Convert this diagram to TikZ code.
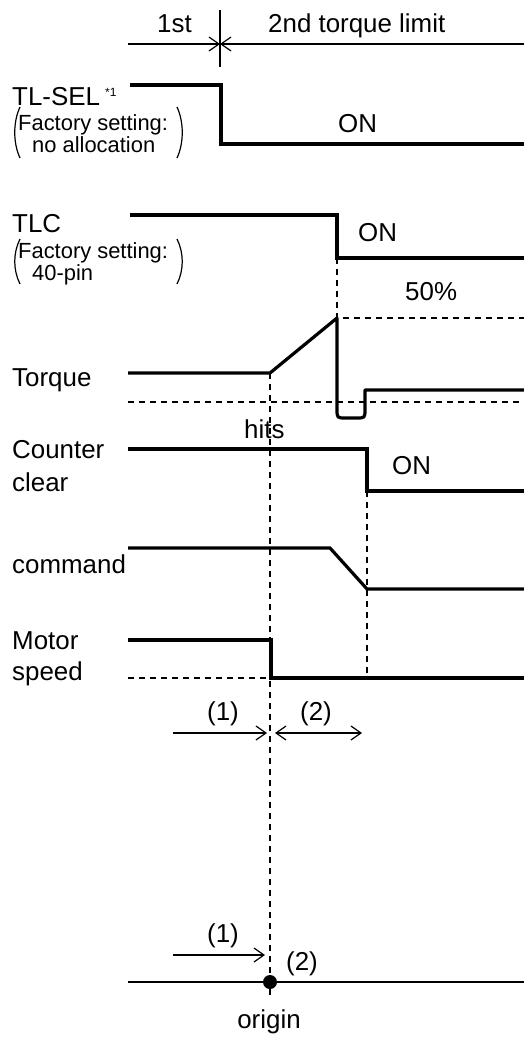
\documentclass[tikz,border=0pt]{standalone}
\usepackage{fontspec}
\setmainfont{Liberation Sans}
\usetikzlibrary{arrows.meta}

\begin{document}
\begin{tikzpicture}[x=1bp, y=-1bp,
        sig/.style={line width=3.2bp},
        guide/.style={line width=1.2bp},
        dsh/.style={line width=1.1bp, dash pattern=on 6bp off 5bp},
        barb/.style={-{Straight Barb[length=10bp,width=14bp]}, line width=1.2bp},
        lbl/.style={anchor=base west, inner sep=0pt, font=\fontsize{26}{30}\selectfont},
        sml/.style={anchor=base west, inner sep=0pt, font=\fontsize{22}{26}\selectfont}]
            \useasboundingbox (0,0) rectangle (524,1037);
            % time instants
            \coordinate (A) at (220,44);
            \coordinate (H) at (270,373);
            \coordinate (P) at (337,318);
            \coordinate (C) at (367,491);
            \coordinate (O) at (270,982);
            % 1st / 2nd torque limit
            \draw[barb] (128,44) -- (A);
            \draw[barb] (524,44) -- (A);
            \draw[guide] (220,10) -- (220,67);
            \node[lbl] (first) at (157,32) {1st};
            \node[lbl] (second) at (268,32) {2nd torque limit};
            % TL-SEL
            \draw[sig] (130,85) -| (221,144) -- (524,144);
            \node[lbl] (tlsel) at (12,105) {TL-SEL};
            \node[anchor=base west, inner sep=0pt, font=\fontsize{12}{14}\selectfont] (note) at (105,96) {*1};
            \node[sml] (fs1) at (18,130) {Factory setting:};
            \node[sml] (alloc) at (32,152) {no allocation};
            \draw[guide] (20,107) .. controls (13,122) and (13,143) .. (20,158);
            \draw[guide] (177,107) .. controls (184,122) and (184,143) .. (177,158);
            \node[lbl] (on1) at (338,132) {ON};
            % TLC
            \draw[sig] (130,215) -| (337,258) -- (524,258);
            \node[lbl] (tlc) at (12,232) {TLC};
            \node[sml] (fs2) at (18,258) {Factory setting:};
            \node[sml] (pin) at (32,280) {40-pin};
            \draw[guide] (20,239) .. controls (13,253) and (13,270) .. (20,284);
            \draw[guide] (177,239) .. controls (184,253) and (184,270) .. (177,284);
            \node[lbl] (on2) at (358,241) {ON};
            % Torque
            \draw[dsh] (337,258) -- (P) -- (524,318);
            \node[lbl] (half) at (405,300) {50\%};
            \draw[dsh] (128,402) -- (524,402);
            \draw[sig, line join=round] (128,373) -- (H) -- (P) -- (337,409)
                .. controls (337,418) .. (346,418) -- (356,418)
                .. controls (365,418) .. (365,409) -- (365,390) -- (524,390);
            \node[lbl] (torque) at (12,386) {Torque};
            \node[lbl] (hits) at (244,438) {hits};
            \draw[dsh] (H) -- (270,997);
            % Counter clear
            \draw[sig] (128,449) -| (C) -- (524,491);
            \node[lbl] (counter) at (12,458) {Counter};
            \node[lbl] (clear) at (12,491) {clear};
            \node[lbl] (on3) at (392,474) {ON};
            \draw[dsh] (C) -- (367,678);
            % command
            \draw[sig] (128,548) -- (330,548) -- (367,589) -- (524,589);
            \node[lbl] (cmd) at (12,573) {command};
            % Motor speed
            \draw[dsh] (128,678) -- (270,678);
            \draw[sig] (128,640) -| (271,678) -- (524,678);
            \node[lbl] (motor) at (12,649) {Motor};
            \node[lbl] (speed) at (12,680) {speed};
            % (1) and (2)
            \draw[barb] (173,733) -- (267,733);
            \draw[barb, {Straight Barb[length=10bp,width=14bp]}-{Straight Barb[length=10bp,width=14bp]}] (275,733) -- (362,733);
            \node[lbl] (one) at (207,720) {(1)};
            \node[lbl] (two) at (300,720) {(2)};
            % origin
            \draw[guide] (128,982) -- (524,982);
            \fill (O) circle (7bp);
            \draw[barb] (173,955) -- (265,955);
            \node[lbl] (oneb) at (207,942) {(1)};
            \node[lbl] (twob) at (286,970) {(2)};
            \node[anchor=base, inner sep=0pt, font=\fontsize{26}{30}\selectfont] (orig) at (269,1028) {origin};
        \end{tikzpicture}
\end{document}
